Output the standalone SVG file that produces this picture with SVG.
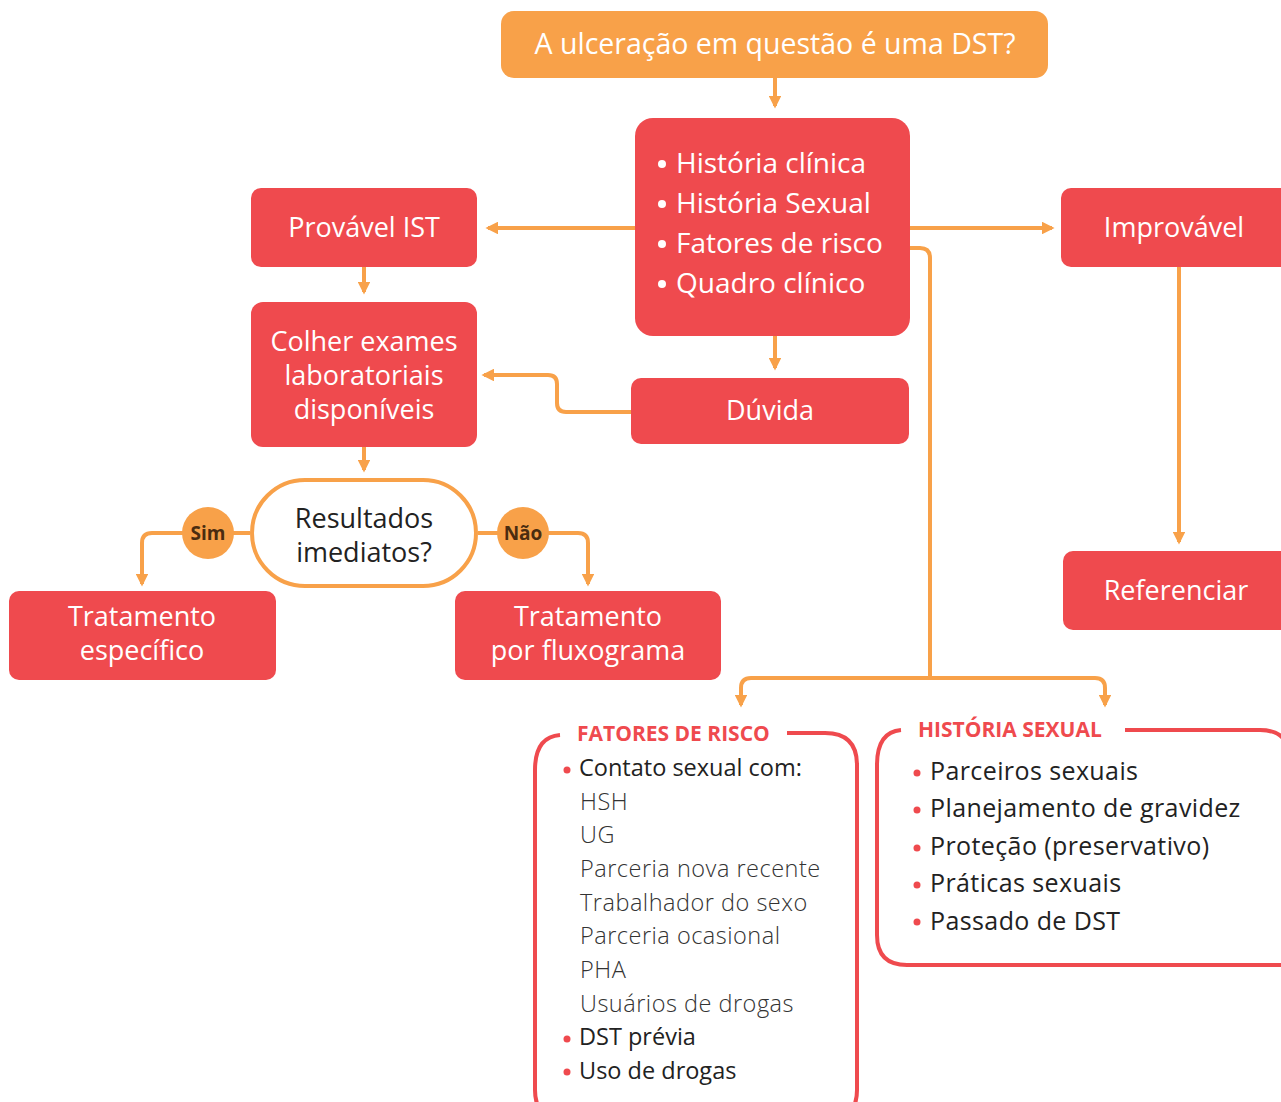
<svg xmlns="http://www.w3.org/2000/svg" width="1281" height="1102" viewBox="0 0 1281 1102">
<defs>
<style>
.box{fill:#EF4A4E}
.top{fill:#F8A149}
.wt{fill:#fff;font-family:"Open Sans","Noto Sans",sans-serif;font-size:27px;text-anchor:middle}
.wl{fill:#fff;font-family:"Open Sans","Noto Sans",sans-serif;font-size:28px}
.con{fill:none;stroke:#F8A149;stroke-width:4;stroke-linejoin:round}
.frame{fill:none;stroke:#EF4A4E;stroke-width:4}
.ttl{fill:#EF4A4E;font-family:"Open Sans","Noto Sans",sans-serif;font-size:21px;font-weight:700}
.it{fill:#222;font-family:"Open Sans","Noto Sans",sans-serif;font-size:23.5px}
.hs{fill:#222;font-family:"Open Sans","Noto Sans",sans-serif;font-size:25px;letter-spacing:0.4px}
.sub{fill:#333;font-family:"Open Sans","Noto Sans",sans-serif;font-size:23.5px;font-weight:300;letter-spacing:0.5px}
.rd{fill:#EF4A4E}
.lbl{fill:#4a2c10;font-family:"Open Sans","Noto Sans",sans-serif;font-size:19px;font-weight:700;text-anchor:middle}
</style>
<marker id="ah" viewBox="0 0 10 10" refX="8" refY="5" markerWidth="3.2" markerHeight="3.2" orient="auto" markerUnits="strokeWidth">
<path d="M0,0 L10,5 L0,10 Z" fill="#F8A149"/>
</marker>
</defs>
<rect width="1281" height="1102" fill="#fff"/>

<g id="connectors">
<path class="con" d="M775,78 V106" marker-end="url(#ah)"/>
<path class="con" d="M635,228 H488" marker-end="url(#ah)"/>
<path class="con" d="M910,228 H1052" marker-end="url(#ah)"/>
<path class="con" d="M1179,267 V542" marker-end="url(#ah)"/>
<path class="con" d="M364,267 V292" marker-end="url(#ah)"/>
<path class="con" d="M775,336 V368" marker-end="url(#ah)"/>
<path class="con" d="M631,412 H566 Q557,412 557,403 V384 Q557,375 548,375 H484" marker-end="url(#ah)"/>
<path class="con" d="M364,447 V470" marker-end="url(#ah)"/>
<path class="con" d="M250,533 H152 Q142,533 142,543 V584" marker-end="url(#ah)"/>
<path class="con" d="M478,533 H578 Q588,533 588,543 V584" marker-end="url(#ah)"/>
<path class="con" d="M910,248 H920 Q930,248 930,258 V678"/>
<path class="con" d="M930,678 H751 Q741,678 741,688 V705" marker-end="url(#ah)"/>
<path class="con" d="M930,678 H1095 Q1105,678 1105,688 V705" marker-end="url(#ah)"/>
</g>

<g id="n-top">
<rect class="top" x="501" y="11" width="547" height="67" rx="13"/>
<text class="wt" x="775" y="54" style="font-size:28.5px">A ulceração em questão é uma DST?</text>
</g>

<g id="n-central">
<rect class="box" x="635" y="118" width="275" height="218" rx="18"/>
<circle cx="662" cy="164" r="4" fill="#fff"/>
<circle cx="662" cy="204" r="4" fill="#fff"/>
<circle cx="662" cy="244" r="4" fill="#fff"/>
<circle cx="662" cy="284" r="4" fill="#fff"/>
<text class="wl" x="676" y="173">História clínica</text>
<text class="wl" x="676" y="213">História Sexual</text>
<text class="wl" x="676" y="253">Fatores de risco</text>
<text class="wl" x="676" y="293">Quadro clínico</text>
</g>

<g id="n-provavel">
<rect class="box" x="251" y="188" width="226" height="79" rx="10"/>
<text class="wt" x="364" y="237">Provável IST</text>
</g>

<g id="n-improvavel">
<rect class="box" x="1061" y="188" width="240" height="79" rx="10"/>
<text class="wt" x="1174" y="237">Improvável</text>
</g>

<g id="n-referenciar">
<rect class="box" x="1063" y="551" width="240" height="79" rx="10"/>
<text class="wt" x="1176" y="600">Referenciar</text>
</g>

<g id="n-colher">
<rect class="box" x="251" y="302" width="226" height="145" rx="12"/>
<text class="wt" x="364" y="351">Colher exames</text>
<text class="wt" x="364" y="385">laboratoriais</text>
<text class="wt" x="364" y="419">disponíveis</text>
</g>

<g id="n-duvida">
<rect class="box" x="631" y="378" width="278" height="66" rx="10"/>
<text class="wt" x="770" y="420">Dúvida</text>
</g>

<g id="n-resultados">
<rect x="252" y="480" width="224" height="106" rx="53" fill="#fff" stroke="#F8A149" stroke-width="4"/>
<text class="wt" x="364" y="528" style="fill:#222">Resultados</text>
<text class="wt" x="364" y="562" style="fill:#222">imediatos?</text>
</g>

<g id="n-sim">
<circle cx="208" cy="533" r="26" fill="#F8A149"/>
<text class="lbl" x="208" y="540">Sim</text>
</g>

<g id="n-nao">
<circle cx="523" cy="533" r="26" fill="#F8A149"/>
<text class="lbl" x="523" y="540">Não</text>
</g>

<g id="n-trat-esp">
<rect class="box" x="9" y="591" width="267" height="89" rx="10"/>
<text class="wt" x="142" y="626">Tratamento</text>
<text class="wt" x="142" y="660">específico</text>
</g>

<g id="n-trat-flux">
<rect class="box" x="455" y="591" width="266" height="89" rx="10"/>
<text class="wt" x="588" y="626">Tratamento</text>
<text class="wt" x="588" y="660">por fluxograma</text>
</g>

<g id="n-fatores">
<path class="frame" d="M560,735 Q535,737 535,770 V1090 Q535,1120 565,1120 M787,733 H825 Q857,733 857,765 V1090 Q857,1120 827,1120"/>
<text class="ttl" x="577" y="741">FATORES DE RISCO</text>
<circle class="rd" cx="567" cy="770" r="3.5"/>
<circle class="rd" cx="567" cy="1039" r="3.5"/>
<circle class="rd" cx="567" cy="1072" r="3.5"/>
<text class="it" x="579" y="776">Contato sexual com:</text>
<text class="sub" x="580" y="810">HSH</text>
<text class="sub" x="580" y="843">UG</text>
<text class="sub" x="580" y="877">Parceria nova recente</text>
<text class="sub" x="580" y="911">Trabalhador do sexo</text>
<text class="sub" x="580" y="944">Parceria ocasional</text>
<text class="sub" x="580" y="978">PHA</text>
<text class="sub" x="580" y="1012">Usuários de drogas</text>
<text class="it" x="579" y="1045">DST prévia</text>
<text class="it" x="579" y="1079">Uso de drogas</text>
</g>

<g id="n-historia">
<path class="frame" d="M901,730 Q877,732 877,765 V935 Q877,965 907,965 H1300 M1125,730 H1260 Q1290,730 1290,760"/>
<text class="ttl" x="918" y="737">HISTÓRIA SEXUAL</text>
<circle class="rd" cx="917" cy="773" r="3.5"/>
<circle class="rd" cx="917" cy="810" r="3.5"/>
<circle class="rd" cx="917" cy="848" r="3.5"/>
<circle class="rd" cx="917" cy="885" r="3.5"/>
<circle class="rd" cx="917" cy="922" r="3.5"/>
<text class="hs" x="930" y="780">Parceiros sexuais</text>
<text class="hs" x="930" y="817">Planejamento de gravidez</text>
<text class="hs" x="930" y="855">Proteção (preservativo)</text>
<text class="hs" x="930" y="892">Práticas sexuais</text>
<text class="hs" x="930" y="930">Passado de DST</text>
</g>
</svg>
